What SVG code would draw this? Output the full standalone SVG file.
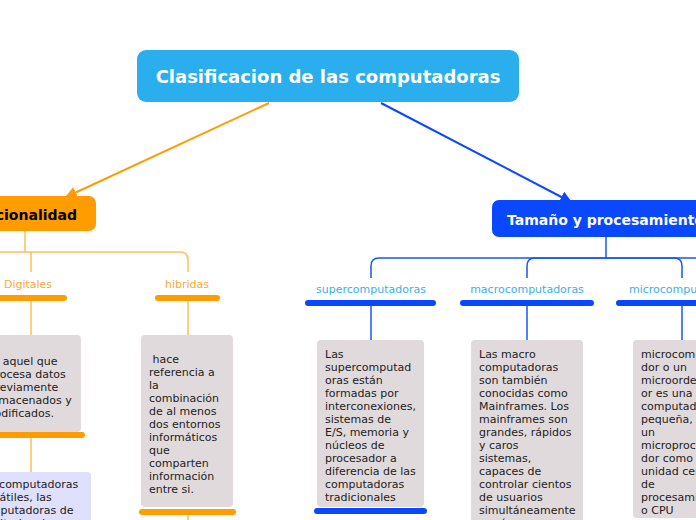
<svg xmlns="http://www.w3.org/2000/svg" width="696" height="520" viewBox="0 0 696 520">
<defs>
<style>
.root{fill:#2aaeee}
.rootT{font-family:"DejaVu Sans",Verdana,sans-serif;font-weight:bold;font-size:18px;fill:#fff}
.main{font-family:"DejaVu Sans",Verdana,sans-serif;font-weight:bold;font-size:14px}
.lbl{font-family:"DejaVu Sans",Verdana,sans-serif;font-size:11px;text-anchor:middle}
.lo{fill:#f8a93a}
.lb{fill:#3bb0f0}
.box{fill:#e1dadd}
.boxL{fill:#dfe0fd}
.bt{font-family:"DejaVu Sans",Verdana,sans-serif;font-size:11px;fill:#222}
.barO{stroke:#ff9c00;stroke-width:6;stroke-linecap:round;fill:none}
.barB{stroke:#0a48ff;stroke-width:6;stroke-linecap:round;fill:none}
.lnO{stroke:#ffbe5c;stroke-width:1.5;fill:none}
.lnB{stroke:#1655ff;stroke-width:1.5;fill:none}
</style>
<marker id="aO" viewBox="0 0 10 10" refX="9" refY="5" markerWidth="6" markerHeight="6" orient="auto"><path d="M0,0 L10,5 L0,10 z" fill="#ff9c00"/></marker>
<marker id="aB" viewBox="0 0 10 10" refX="9" refY="5" markerWidth="6" markerHeight="6" orient="auto"><path d="M0,0 L10,5 L0,10 z" fill="#0a48ff"/></marker>
</defs>

<g id="connectors">
<line x1="269" y1="103" x2="66" y2="197" stroke="#ff9c00" stroke-width="2" marker-end="url(#aO)"/>
<line x1="381" y1="103" x2="571" y2="202" stroke="#0a48ff" stroke-width="2" marker-end="url(#aB)"/>
<path class="lnO" d="M25,231 V252"/>
<path class="lnO" d="M-10,252 H180 Q188,252 188,260 V272"/>
<path class="lnO" d="M31,252 V272"/>
<path class="lnO" d="M31,301 V335"/>
<path class="lnO" d="M188,301 V335"/>
<path class="lnO" d="M31,438 V472"/>
<path class="lnO" d="M188,515 V520"/>
<path class="lnB" d="M606,237 V258"/>
<path class="lnB" d="M606,258 H379 Q371,258 371,266 V278"/>
<path class="lnB" d="M606,258 H535 Q527,258 527,266 V278"/>
<path class="lnB" d="M606,258 H674 Q682,258 682,266 V278"/>
<path class="lnB" d="M606,258 H700"/>
<path class="lnB" d="M371,306 V340"/>
<path class="lnB" d="M527,306 V340"/>
<path class="lnB" d="M682,306 V340"/>
</g>

<g id="root">
<rect class="root" x="137" y="50" width="382" height="52" rx="9"/>
<text class="rootT" x="328" y="83" text-anchor="middle">Clasificacion de las computadoras</text>
</g>

<g id="funcionalidad">
<rect x="-40" y="196" width="136" height="35" rx="7" fill="#ff9c00"/>
<text class="main" x="77" y="220" text-anchor="end" fill="#000">Funcionalidad</text>
</g>

<g id="tamano">
<rect x="492" y="200" width="230" height="37" rx="7" fill="#0a48ff"/>
<text class="main" x="507" y="225" fill="#fff">Tamaño y procesamiento</text>
</g>

<g id="digitales">
<text class="lbl lo" x="28" y="288">Digitales</text>
<path class="barO" d="M-10,298 H64"/>
</g>

<g id="hibridas">
<text class="lbl lo" x="187" y="288">hibridas</text>
<path class="barO" d="M158,298 H217"/>
</g>

<g id="digitales-desc">
<rect class="box" x="-19" y="335" width="100" height="97" rx="4"/>
<text class="bt"><tspan x="-13.5" y="365">Es aquel que</tspan><tspan x="-11.5" y="378">procesa datos</tspan><tspan x="-11.5" y="391">previamente</tspan><tspan x="-11.5" y="404">almacenados y</tspan><tspan x="-11.5" y="417">codificados.</tspan></text>
<path class="barO" d="M-10,435 H82"/>
</g>

<g id="digitales-ej">
<rect class="boxL" x="-31" y="472" width="122" height="60" rx="4"/>
<text class="bt"><tspan x="-23" y="488">Las computadoras</tspan><tspan x="-23" y="501">portátiles, las</tspan><tspan x="-23" y="514">computadoras de</tspan><tspan x="-23" y="527">escritorio y las</tspan></text>
</g>

<g id="hibridas-desc">
<rect class="box" x="141" y="335" width="92" height="172" rx="4"/>
<text class="bt" xml:space="preserve"><tspan x="149" y="363"> hace</tspan><tspan x="149" y="376">referencia a</tspan><tspan x="149" y="389">la</tspan><tspan x="149" y="402">combinación</tspan><tspan x="149" y="415">de al menos</tspan><tspan x="149" y="428">dos entornos</tspan><tspan x="149" y="441">informáticos</tspan><tspan x="149" y="454">que</tspan><tspan x="149" y="467">comparten</tspan><tspan x="149" y="480">información</tspan><tspan x="149" y="493">entre si.</tspan></text>
<path class="barO" d="M142,512 H233"/>
</g>

<g id="supercomputadoras">
<text class="lbl lb" x="371" y="293">supercomputadoras</text>
<path class="barB" d="M308,303 H433"/>
</g>

<g id="macrocomputadoras">
<text class="lbl lb" x="527" y="293">macrocomputadoras</text>
<path class="barB" d="M463,303 H591"/>
</g>

<g id="microcomputadoras">
<text class="lbl lb" x="684" y="293">microcomputadoras</text>
<path class="barB" d="M619,303 H710"/>
</g>

<g id="super-desc">
<rect class="box" x="317" y="340" width="107" height="167" rx="4"/>
<text class="bt"><tspan x="325" y="358">Las</tspan><tspan x="325" y="371">supercomputad</tspan><tspan x="325" y="384">oras están</tspan><tspan x="325" y="397">formadas por</tspan><tspan x="325" y="410">interconexiones,</tspan><tspan x="325" y="423">sistemas de</tspan><tspan x="325" y="436">E/S, memoria y</tspan><tspan x="325" y="449">núcleos de</tspan><tspan x="325" y="462">procesador a</tspan><tspan x="325" y="475">diferencia de las</tspan><tspan x="325" y="488">computadoras</tspan><tspan x="325" y="501">tradicionales</tspan></text>
<path class="barB" d="M317,511 H424"/>
</g>

<g id="macro-desc">
<rect class="box" x="471" y="340" width="112" height="200" rx="4"/>
<text class="bt"><tspan x="479" y="358">Las macro</tspan><tspan x="479" y="371">computadoras</tspan><tspan x="479" y="384">son también</tspan><tspan x="479" y="397">conocidas como</tspan><tspan x="479" y="410">Mainframes. Los</tspan><tspan x="479" y="423">mainframes son</tspan><tspan x="479" y="436">grandes, rápidos</tspan><tspan x="479" y="449">y caros</tspan><tspan x="479" y="462">sistemas,</tspan><tspan x="479" y="475">capaces de</tspan><tspan x="479" y="488">controlar cientos</tspan><tspan x="479" y="501">de usuarios</tspan><tspan x="479" y="514">simultáneamente</tspan><tspan x="479" y="527">y así como</tspan></text>
</g>

<g id="micro-desc">
<rect class="box" x="633" y="340" width="110" height="178" rx="4"/>
<text class="bt"><tspan x="641" y="358">microcomputa</tspan><tspan x="641" y="371">dor o un</tspan><tspan x="641" y="384">microordenad</tspan><tspan x="641" y="397">or es una</tspan><tspan x="641" y="410">computadora</tspan><tspan x="641" y="423">pequeña,</tspan><tspan x="641" y="436">un</tspan><tspan x="641" y="449">microprocesa</tspan><tspan x="641" y="462">dor como</tspan><tspan x="641" y="475">unidad central</tspan><tspan x="641" y="488">de</tspan><tspan x="641" y="501">procesamiento</tspan><tspan x="641" y="514">o CPU</tspan></text>
</g>
</svg>
